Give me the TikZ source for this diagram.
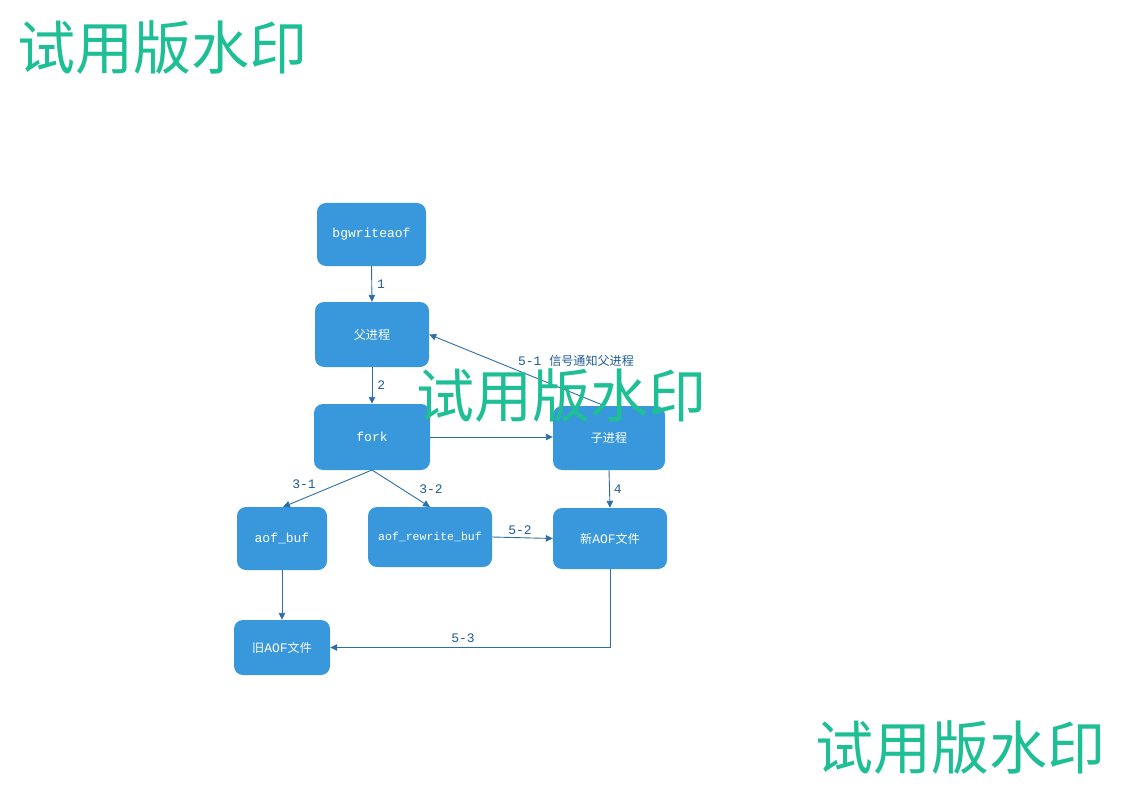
\documentclass[tikz,border=0pt]{standalone}
\usepackage{fontspec}
\setmonofont{Liberation Mono}
\newfontfamily\cjk[Scale=0.93]{Noto Sans CJK SC}
\newfontfamily\markfont{Noto Sans CJK SC}
\usetikzlibrary{arrows.meta}
\definecolor{boxblue}{HTML}{3898DB}
\definecolor{linkblue}{HTML}{2E6EA6}
\definecolor{labelblue}{HTML}{1F5A96}
\definecolor{markgreen}{HTML}{1FBF96}
\tikzset{
  proc/.style={fill=boxblue, draw=none, rounded corners=9pt, text=white,
    font=\fontsize{13}{15}\selectfont\ttfamily, inner sep=0pt},
  link/.style={draw=linkblue, line width=0.9pt, -{Triangle[length=7pt,width=6.5pt]}},
  lbl/.style={text=labelblue, font=\fontsize{13}{15}\selectfont\ttfamily, inner sep=1pt},
  wmark/.style={text=markgreen, font=\fontsize{58}{60}\selectfont\markfont, inner sep=0pt}
}
\begin{document}
\begin{tikzpicture}[x=1pt,y=-1pt]
\useasboundingbox (0,0) rectangle (1123,794);

% process boxes
\node[proc, minimum width=109pt, minimum height=63pt] (bg) at (371.5,234.5) {bgwriteaof};
\node[proc, minimum width=114pt, minimum height=65pt] (parent) at (372,334.5) {{\cjk 父进程}};
\node[proc, minimum width=116pt, minimum height=66pt] (fork) at (372,437) {fork};
\node[proc, minimum width=112pt, minimum height=64pt] (child) at (609,438) {{\cjk 子进程}};
\node[proc, minimum width=90pt, minimum height=63pt] (aofbuf) at (282,538.5) {aof\_buf};
\node[proc, minimum width=124pt, minimum height=60pt, font=\fontsize{11.5}{14}\selectfont\ttfamily] (rwbuf) at (430,537) {aof\_rewrite\_buf};
\node[proc, minimum width=114pt, minimum height=61pt] (newaof) at (610,538.5) {{\cjk 新}AOF{\cjk 文件}};
\node[proc, minimum width=96pt, minimum height=55pt] (oldaof) at (282,647.5) {{\cjk 旧}AOF{\cjk 文件}};

% connectors
\draw[link] (bg.south) -- node[lbl, right=4pt] {1} (parent.north);
\draw[link] (parent.south) -- node[lbl, right=4pt] {2} (fork.north);
\draw[link] (fork.east) -- (fork.east -| child.west);
\coordinate (childtop) at (605,406);
\draw[link] (childtop) -- (parent.east);
\node[lbl] (l51) at (576,361) {5-1 {\cjk 信号通知父进程}};
\coordinate (forkbot) at (372,470);
\draw[link] (forkbot) -- (283,507);
\node[lbl] (l31) at (304,484) {3-1};
\draw[link] (forkbot) -- (430,507);
\node[lbl] (l32) at (431,489) {3-2};
\draw[link] (child.south) -- node[lbl, right=3pt] {4} (newaof.north);
\draw[link] (rwbuf.east) -- (newaof.west);
\node[lbl] (l52) at (520,530) {5-2};
\draw[link] (aofbuf.south) -- (oldaof.north);
\draw[link] (newaof.south) |- (oldaof.east);
\node[lbl] (l53) at (463,638) {5-3};

% watermark text
\node[wmark] (w1) at (162,48) {试用版水印};
\node[wmark] (w2) at (561,396) {试用版水印};
\node[wmark] (w3) at (960,748) {试用版水印};
\end{tikzpicture}
\end{document}
